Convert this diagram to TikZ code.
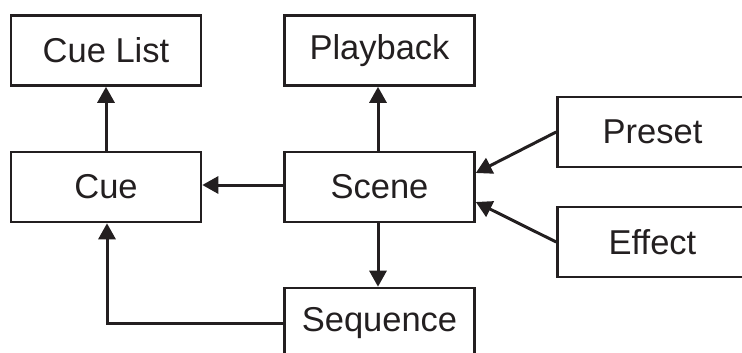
\documentclass[tikz,border=0pt]{standalone}
\usepackage{fontspec}
\setmainfont{Liberation Sans}
\usetikzlibrary{arrows.meta}
\definecolor{ink}{HTML}{231F20}
\begin{document}
\begin{tikzpicture}[x=1pt,y=1pt,
  box/.style={draw=ink, line width=2.6pt, minimum width=190pt, minimum height=70pt, inner sep=0pt, text=ink, font=\fontsize{34.5}{40}\selectfont},
  conn/.style={draw=ink, line width=3pt, -{Triangle[length=16pt,width=17pt]}}]
\useasboundingbox (0,0) rectangle (742,-353);
\node[box] (cuelist) at (106,-50.5) {Cue List};
\node[box] (playback) at (379.5,-50.5) {Playback};
\node[box] (cue) at (106,-187) {Cue};
\node[box] (scene) at (379.5,-187) {Scene};
\node[box] (preset) at (652.5,-132) {Preset};
\node[box] (effect) at (652.5,-242) {Effect};
\node[box] (sequence) at (379.5,-323) {Sequence};
\draw[conn] (cue.north) -- (cuelist.south);
\draw[conn] ([xshift=-1.5pt]scene.north) -- ([xshift=-1.5pt]playback.south);
\draw[conn] ([yshift=2pt]scene.west) -- ([yshift=2pt]cue.east);
\draw[conn] ([xshift=-1.5pt]scene.south) -- ([xshift=-1.5pt]sequence.north);
\draw[conn] (sequence.west) -| ([xshift=1pt]cue.south);
\draw[conn] (preset.west) -- ([yshift=14pt]scene.east);
\draw[conn] (effect.west) -- ([yshift=-15pt]scene.east);
\end{tikzpicture}
\end{document}
